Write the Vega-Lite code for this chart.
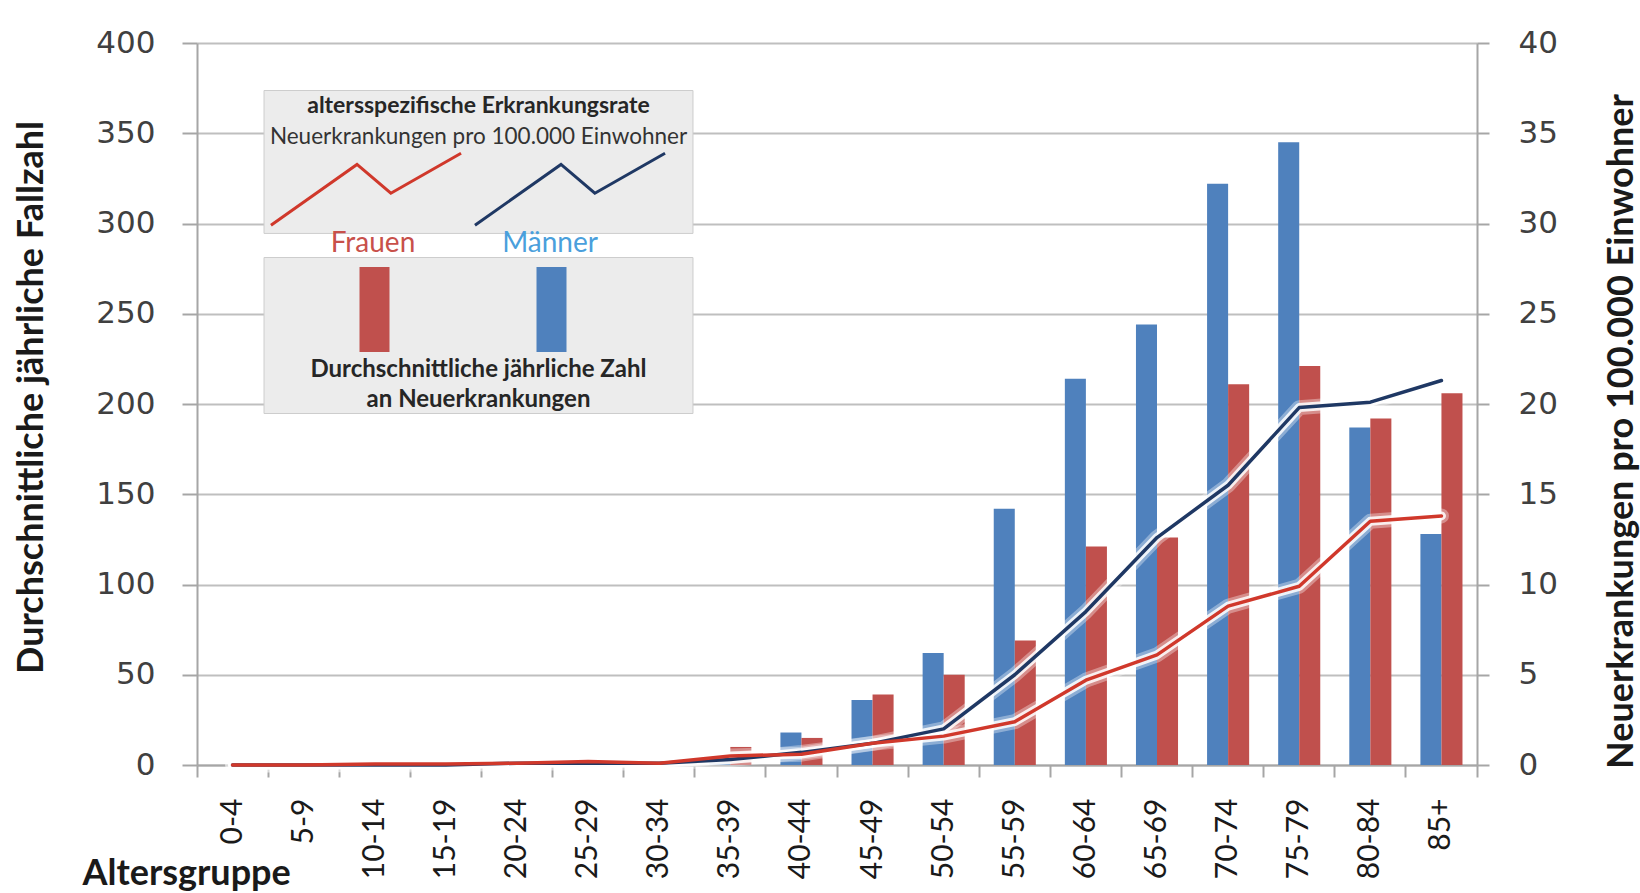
{
  "$schema": "https://vega.github.io/schema/vega-lite/v6.json",
  "width": 1280,
  "height": 722,
  "autosize": {"type": "none"},
  "padding": {"left": 197, "top": 43, "right": 163, "bottom": 128},
  "background": "white",
  "datasets": {
    "fallzahl": [
      {"Altersgruppe": "0-4", "Geschlecht": "Männer", "Fallzahl": 0},
      {"Altersgruppe": "5-9", "Geschlecht": "Männer", "Fallzahl": 0},
      {"Altersgruppe": "10-14", "Geschlecht": "Männer", "Fallzahl": 0},
      {"Altersgruppe": "15-19", "Geschlecht": "Männer", "Fallzahl": 0},
      {"Altersgruppe": "20-24", "Geschlecht": "Männer", "Fallzahl": 0},
      {"Altersgruppe": "25-29", "Geschlecht": "Männer", "Fallzahl": 0},
      {"Altersgruppe": "30-34", "Geschlecht": "Männer", "Fallzahl": 1},
      {"Altersgruppe": "35-39", "Geschlecht": "Männer", "Fallzahl": 4},
      {"Altersgruppe": "40-44", "Geschlecht": "Männer", "Fallzahl": 18},
      {"Altersgruppe": "45-49", "Geschlecht": "Männer", "Fallzahl": 36},
      {"Altersgruppe": "50-54", "Geschlecht": "Männer", "Fallzahl": 62},
      {"Altersgruppe": "55-59", "Geschlecht": "Männer", "Fallzahl": 142},
      {"Altersgruppe": "60-64", "Geschlecht": "Männer", "Fallzahl": 214},
      {"Altersgruppe": "65-69", "Geschlecht": "Männer", "Fallzahl": 244},
      {"Altersgruppe": "70-74", "Geschlecht": "Männer", "Fallzahl": 322},
      {"Altersgruppe": "75-79", "Geschlecht": "Männer", "Fallzahl": 345},
      {"Altersgruppe": "80-84", "Geschlecht": "Männer", "Fallzahl": 187},
      {"Altersgruppe": "85+", "Geschlecht": "Männer", "Fallzahl": 128},
      {"Altersgruppe": "0-4", "Geschlecht": "Frauen", "Fallzahl": 0},
      {"Altersgruppe": "5-9", "Geschlecht": "Frauen", "Fallzahl": 0},
      {"Altersgruppe": "10-14", "Geschlecht": "Frauen", "Fallzahl": 0},
      {"Altersgruppe": "15-19", "Geschlecht": "Frauen", "Fallzahl": 0},
      {"Altersgruppe": "20-24", "Geschlecht": "Frauen", "Fallzahl": 0},
      {"Altersgruppe": "25-29", "Geschlecht": "Frauen", "Fallzahl": 1},
      {"Altersgruppe": "30-34", "Geschlecht": "Frauen", "Fallzahl": 1},
      {"Altersgruppe": "35-39", "Geschlecht": "Frauen", "Fallzahl": 10},
      {"Altersgruppe": "40-44", "Geschlecht": "Frauen", "Fallzahl": 15},
      {"Altersgruppe": "45-49", "Geschlecht": "Frauen", "Fallzahl": 39},
      {"Altersgruppe": "50-54", "Geschlecht": "Frauen", "Fallzahl": 50},
      {"Altersgruppe": "55-59", "Geschlecht": "Frauen", "Fallzahl": 69},
      {"Altersgruppe": "60-64", "Geschlecht": "Frauen", "Fallzahl": 121},
      {"Altersgruppe": "65-69", "Geschlecht": "Frauen", "Fallzahl": 126},
      {"Altersgruppe": "70-74", "Geschlecht": "Frauen", "Fallzahl": 211},
      {"Altersgruppe": "75-79", "Geschlecht": "Frauen", "Fallzahl": 221},
      {"Altersgruppe": "80-84", "Geschlecht": "Frauen", "Fallzahl": 192},
      {"Altersgruppe": "85+", "Geschlecht": "Frauen", "Fallzahl": 206}
    ],
    "rate": [
      {"Altersgruppe": "0-4", "Geschlecht": "Männer", "Rate": 0},
      {"Altersgruppe": "5-9", "Geschlecht": "Männer", "Rate": 0},
      {"Altersgruppe": "10-14", "Geschlecht": "Männer", "Rate": 0},
      {"Altersgruppe": "15-19", "Geschlecht": "Männer", "Rate": 0},
      {"Altersgruppe": "20-24", "Geschlecht": "Männer", "Rate": 0.1},
      {"Altersgruppe": "25-29", "Geschlecht": "Männer", "Rate": 0.1},
      {"Altersgruppe": "30-34", "Geschlecht": "Männer", "Rate": 0.1},
      {"Altersgruppe": "35-39", "Geschlecht": "Männer", "Rate": 0.3},
      {"Altersgruppe": "40-44", "Geschlecht": "Männer", "Rate": 0.7},
      {"Altersgruppe": "45-49", "Geschlecht": "Männer", "Rate": 1.2},
      {"Altersgruppe": "50-54", "Geschlecht": "Männer", "Rate": 2.0},
      {"Altersgruppe": "55-59", "Geschlecht": "Männer", "Rate": 5.0},
      {"Altersgruppe": "60-64", "Geschlecht": "Männer", "Rate": 8.5},
      {"Altersgruppe": "65-69", "Geschlecht": "Männer", "Rate": 12.6},
      {"Altersgruppe": "70-74", "Geschlecht": "Männer", "Rate": 15.5},
      {"Altersgruppe": "75-79", "Geschlecht": "Männer", "Rate": 19.8},
      {"Altersgruppe": "80-84", "Geschlecht": "Männer", "Rate": 20.1},
      {"Altersgruppe": "85+", "Geschlecht": "Männer", "Rate": 21.3},
      {"Altersgruppe": "0-4", "Geschlecht": "Frauen", "Rate": 0},
      {"Altersgruppe": "5-9", "Geschlecht": "Frauen", "Rate": 0},
      {"Altersgruppe": "10-14", "Geschlecht": "Frauen", "Rate": 0.05},
      {"Altersgruppe": "15-19", "Geschlecht": "Frauen", "Rate": 0.05},
      {"Altersgruppe": "20-24", "Geschlecht": "Frauen", "Rate": 0.1},
      {"Altersgruppe": "25-29", "Geschlecht": "Frauen", "Rate": 0.2},
      {"Altersgruppe": "30-34", "Geschlecht": "Frauen", "Rate": 0.1},
      {"Altersgruppe": "35-39", "Geschlecht": "Frauen", "Rate": 0.5},
      {"Altersgruppe": "40-44", "Geschlecht": "Frauen", "Rate": 0.6},
      {"Altersgruppe": "45-49", "Geschlecht": "Frauen", "Rate": 1.2},
      {"Altersgruppe": "50-54", "Geschlecht": "Frauen", "Rate": 1.6},
      {"Altersgruppe": "55-59", "Geschlecht": "Frauen", "Rate": 2.4},
      {"Altersgruppe": "60-64", "Geschlecht": "Frauen", "Rate": 4.7},
      {"Altersgruppe": "65-69", "Geschlecht": "Frauen", "Rate": 6.1},
      {"Altersgruppe": "70-74", "Geschlecht": "Frauen", "Rate": 8.8},
      {"Altersgruppe": "75-79", "Geschlecht": "Frauen", "Rate": 9.9},
      {"Altersgruppe": "80-84", "Geschlecht": "Frauen", "Rate": 13.5},
      {"Altersgruppe": "85+", "Geschlecht": "Frauen", "Rate": 13.8}
    ]
  },
  "title": {
    "text": "altersspezifische Erkrankungsrate",
    "subtitle": "Neuerkrankungen pro 100.000 Einwohner",
    "orient": "top",
    "frame": "group",
    "anchor": "middle",
    "dx": -358.5,
    "offset": -121,
    "font": "Lato",
    "fontSize": 23,
    "fontWeight": "bold",
    "color": "#262626",
    "subtitleFont": "Lato",
    "subtitleFontSize": 22.5,
    "subtitleFontWeight": "normal",
    "subtitleColor": "#333333",
    "subtitlePadding": 8
  },
  "layer": [
    {
      "data": {"name": "fallzahl"},
      "mark": {"type": "bar"},
      "encoding": {
        "x": {
          "field": "Altersgruppe",
          "type": "nominal",
          "sort": ["0-4", "5-9", "10-14", "15-19", "20-24", "25-29", "30-34", "35-39", "40-44", "45-49", "50-54", "55-59", "60-64", "65-69", "70-74", "75-79", "80-84", "85+"],
          "scale": {"paddingInner": 0, "paddingOuter": 0},
          "axis": {
            "title": "Altersgruppe",
            "labelAngle": -90,
            "labelAlign": "right",
            "labelBaseline": "middle",
            "labelFont": "Lato",
            "labelFontSize": 30,
            "labelColor": "#1a1a1a",
            "labelPadding": 21,
            "labelOverlap": false,
            "bandPosition": 1,
            "tickExtra": true,
            "tickSize": 12,
            "tickColor": "#a6a6a6",
            "tickWidth": 2,
            "domainColor": "#a6a6a6",
            "domainWidth": 2,
            "grid": false,
            "titleFont": "Lato",
            "titleFontSize": 36,
            "titleFontWeight": "bold",
            "titleColor": "#1a1a1a",
            "titleX": -115,
            "titleY": 119,
            "titleAlign": "left",
            "titleBaseline": "alphabetic"
          }
        },
        "xOffset": {
          "field": "Geschlecht",
          "type": "nominal",
          "sort": ["Männer", "Frauen"],
          "scale": {"paddingInner": 0, "paddingOuter": 0.69}
        },
        "y": {
          "field": "Fallzahl",
          "type": "quantitative",
          "scale": {"domain": [0, 400], "nice": false},
          "axis": {
            "title": "Durchschnittliche jährliche Fallzahl",
            "values": [0, 50, 100, 150, 200, 250, 300, 350, 400],
            "grid": true,
            "gridColor": "#bfbfbf",
            "gridWidth": 2,
            "domainColor": "#a6a6a6",
            "domainWidth": 2,
            "tickColor": "#a6a6a6",
            "tickWidth": 2,
            "tickSize": 15,
            "labelFont": "DejaVu Sans",
            "labelFontSize": 31,
            "labelColor": "#404040",
            "labelPadding": 27,
            "titleFont": "Lato",
            "titleFontSize": 36,
            "titleFontWeight": "bold",
            "titleColor": "#1a1a1a",
            "titleAngle": 270,
            "titleX": -166,
            "titleY": 354,
            "titleAlign": "center",
            "titleBaseline": "middle"
          }
        },
        "fill": {
          "field": "Geschlecht",
          "type": "nominal",
          "scale": {"range": ["#c0504d", "#4f81bd"]},
          "legend": {
            "orient": "none",
            "legendX": 113.5,
            "legendY": 224,
            "direction": "horizontal",
            "padding": 0,
            "fillColor": null,
            "zindex": 1,
            "title": ["Durchschnittliche jährliche Zahl", "an Neuerkrankungen"],
            "titleOrient": "bottom",
            "titleAnchor": "middle",
            "titleAlign": "center",
            "titleFont": "Lato",
            "titleFontSize": 24,
            "titleFontWeight": "bold",
            "titleColor": "#262626",
            "titleLineHeight": 30,
            "titlePadding": 6,
            "titleLimit": 600,
            "symbolType": "M-0.353,-1H0.353V1H-0.353Z",
            "symbolSize": 7225,
            "symbolStrokeWidth": 0,
            "symbolOffset": -27.5,
            "columnPadding": 86,
            "labelFont": "Lato",
            "labelFontSize": 28,
            "labelOffset": -44,
            "labelAlign": "center",
            "encode": {
              "labels": {"update": {"fill": {"signal": "datum.value === 'Frauen' ? '#c8504a' : '#4a9fdc'"}, "dy": {"value": -65.5}}}
            }
          }
        },
        "opacity": {
          "field": "Altersgruppe",
          "type": "nominal",
          "scale": {"type": "point", "range": [1, 1]},
          "legend": {
            "orient": "none",
            "legendX": 67,
            "legendY": 47,
            "padding": 0,
            "fillColor": null,
            "zindex": 0,
            "title": null,
            "values": ["0-4"],
            "symbolType": "M-1.328,-1H1.328V-0.115H-1.328Z M-1.328,0.034H1.328V1H-1.328Z",
            "symbolSize": 104329,
            "symbolStrokeWidth": 1,
            "symbolOffset": 52.5,
            "symbolFillColor": "#ececec",
            "symbolStrokeColor": "#cdcdcd",
            "symbolOpacity": 1,
            "labelExpr": "''",
            "labelFontSize": 1
          }
        }
      }
    },
    {
      "data": {"name": "rate"},
      "layer": [
        {
          "mark": {"type": "line", "stroke": "white", "strokeWidth": 15, "opacity": 0.35, "strokeJoin": "round", "strokeCap": "round"},
          "encoding": {
            "x": {"field": "Altersgruppe", "type": "nominal", "sort": ["0-4", "5-9", "10-14", "15-19", "20-24", "25-29", "30-34", "35-39", "40-44", "45-49", "50-54", "55-59", "60-64", "65-69", "70-74", "75-79", "80-84", "85+"]},
            "y": {
              "field": "Rate",
              "type": "quantitative",
              "scale": {"domain": [0, 40], "nice": false},
              "axis": {
                "orient": "right",
                "title": "Neuerkrankungen pro 100.000 Einwohner",
                "values": [0, 5, 10, 15, 20, 25, 30, 35, 40],
                "grid": false,
                "domainColor": "#a6a6a6",
                "domainWidth": 2,
                "tickColor": "#a6a6a6",
                "tickWidth": 2,
                "tickSize": 12,
                "labelFont": "DejaVu Sans",
                "labelFontSize": 31,
                "labelColor": "#404040",
                "labelPadding": 29,
                "titleFont": "Lato",
                "titleFontSize": 36,
                "titleFontWeight": "bold",
                "titleColor": "#1a1a1a",
                "titleAngle": 270,
                "titleX": 144,
                "titleY": 388,
                "titleAlign": "center",
                "titleBaseline": "middle"
              }
            },
            "detail": {"field": "Geschlecht"}
          }
        },
        {
          "mark": {"type": "line", "stroke": "white", "strokeWidth": 9, "opacity": 0.85, "strokeJoin": "round", "strokeCap": "round"},
          "encoding": {
            "x": {"field": "Altersgruppe", "type": "nominal", "sort": ["0-4", "5-9", "10-14", "15-19", "20-24", "25-29", "30-34", "35-39", "40-44", "45-49", "50-54", "55-59", "60-64", "65-69", "70-74", "75-79", "80-84", "85+"]},
            "y": {"field": "Rate", "type": "quantitative"},
            "detail": {"field": "Geschlecht"}
          }
        },
        {
          "mark": {"type": "line", "strokeWidth": 3.5, "strokeJoin": "round", "strokeCap": "round"},
          "encoding": {
            "x": {"field": "Altersgruppe", "type": "nominal", "sort": ["0-4", "5-9", "10-14", "15-19", "20-24", "25-29", "30-34", "35-39", "40-44", "45-49", "50-54", "55-59", "60-64", "65-69", "70-74", "75-79", "80-84", "85+"]},
            "y": {"field": "Rate", "type": "quantitative"},
            "stroke": {
              "field": "Geschlecht",
              "type": "nominal",
              "scale": {"range": ["#d0382b", "#1f3864"]},
              "legend": {
                "orient": "none",
                "legendX": 74,
                "legendY": 108.5,
                "direction": "horizontal",
                "padding": 0,
                "fillColor": null,
                "zindex": 1,
                "title": null,
                "symbolType": "M-2.64,1L-0.25,-0.69L0.69,0.11L2.64,-1",
                "symbolSize": 5184,
                "symbolStrokeWidth": 3,
                "symbolFillColor": "transparent",
                "symbolOffset": 57.5,
                "columnPadding": 0,
                "labelExpr": "''",
                "labelFontSize": 1
              }
            }
          }
        }
      ]
    }
  ],
  "resolve": {"scale": {"y": "independent"}},
  "config": {
    "view": {"stroke": null},
    "font": "Lato"
  }
}
